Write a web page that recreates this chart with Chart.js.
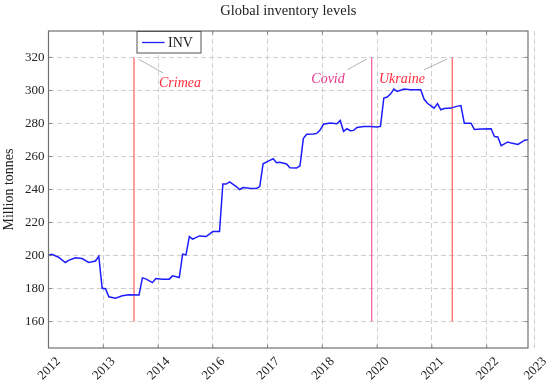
<!DOCTYPE html>
<html>
<head>
<meta charset="utf-8">
<script src="https://cdn.jsdelivr.net/npm/chart.js@4"></script>
<style>
  html, body { margin: 0; padding: 0; background: #fff; }
  canvas { display: block; }
</style>
</head>
<body>
<canvas id="invChart" width="550" height="384"></canvas>
<script>
// monthly index from the first observation
const months = [0,1,3,5,6,8,10,12,13,14,15,16,17,18,20,22,24,27,28,29,31,32,34,36,37,39,40,41,42,43,45,47,49,51,52,53,54,56,57,58,60,62,63,64,66,67,68,69,71,72,74,75,76,77,79,80,81,82,84,86,87,88,89,90,91,92,94,96,98,99,100,101,102,103,104,106,108,111,112,113,115,116,117,118,120,122,123,124,126,127,129,132,133,134,135,137,138,140,142,143];
const inventory = [200.2,200.8,199.0,195.8,197.1,198.7,198.2,195.8,196.2,196.7,199.6,180.2,179.9,175.0,174.2,175.6,176.2,176.1,186.5,185.9,183.6,186.1,185.7,185.7,187.7,186.7,200.8,200.4,211.5,209.9,211.9,211.5,214.5,214.5,243.3,243.3,244.6,241.8,240.0,241.2,240.8,240.6,241.8,255.6,257.6,258.6,256.2,256.5,255.5,253.2,253.0,254.4,270.8,273.4,273.6,274.0,276.0,279.5,280.2,279.8,281.8,275.2,276.8,275.6,275.8,277.6,278.2,278.2,277.8,278.2,295.4,296.0,297.8,300.8,299.4,300.8,300.4,300.4,294.8,292.2,289.3,292.0,288.3,289.0,289.3,290.5,290.8,280.2,280.2,276.4,276.6,276.8,272.1,271.8,266.6,268.8,268.1,267.3,269.9,270.1];

const xTickMonths = [0, 16.33, 32.67, 49, 65.33, 81.67, 98, 114.33, 130.67, 145];
const xTickLabels = ['2012','2013','2014','2016','2017','2018','2020','2021','2022','2023'];
const yTicks = [160, 180, 200, 220, 240, 260, 280, 300, 320];

const eventNames = ['Crimea', 'Covid', 'Ukraine'];
const eventMonths = [25.5, 96.4, 120.4];
const eventSpan = [160, 320];

const SERIF = "'Liberation Serif', 'DejaVu Serif', serif";

// pin geometry & colours for each event label
const eventStyle = {
    'Crimea':  { line: '#ff4d4d', text: '#ff2a3a', pin: [5, 2, 29, 15.5], label: [46, 25.5] },
    'Covid':   { line: '#f0489a', text: '#e8338a', pin: [-5, 1.6, -24.4, 12.3], label: [-43.7, 22.3] },
    'Ukraine': { line: '#ff4d4d', text: '#ff2a3a', pin: [-5, 1.6, -28.3, 12.3], label: [-50.3, 22.3] }
};

const decorPlugin = {
    id: 'decor',
    beforeDatasetsDraw(chart) {
        const { ctx, scales: { x, y } } = chart;
        ctx.save();
        eventNames.forEach((name, i) => {
            const st = eventStyle[name];
            const px = x.getPixelForValue(eventMonths[i]);
            const top = y.getPixelForValue(eventSpan[1]);
            const bot = y.getPixelForValue(eventSpan[0]);
            ctx.strokeStyle = st.line;
            ctx.lineWidth = 1.1;
            ctx.beginPath();
            ctx.moveTo(px, top);
            ctx.lineTo(px, bot);
            ctx.stroke();

            ctx.strokeStyle = '#a0a0a0';
            ctx.lineWidth = 0.8;
            ctx.beginPath();
            ctx.moveTo(px + st.pin[0], top + st.pin[1]);
            ctx.lineTo(px + st.pin[2], top + st.pin[3]);
            ctx.stroke();

            ctx.fillStyle = st.text;
            ctx.font = 'italic 14px ' + SERIF;
            ctx.textAlign = 'center';
            ctx.textBaseline = 'middle';
            ctx.fillText(name, px + st.label[0], top + st.label[1]);
        });
        ctx.restore();
    },
    afterDraw(chart) {
        const { ctx, chartArea: a, scales: { x, y } } = chart;
        ctx.save();
        // frame
        ctx.strokeStyle = '#707070';
        ctx.lineWidth = 1.2;
        ctx.strokeRect(a.left, a.top, a.right - a.left, a.bottom - a.top);
        // inner tick marks
        ctx.lineWidth = 0.8;
        ctx.beginPath();
        yTicks.forEach(v => {
            const py = y.getPixelForValue(v);
            ctx.moveTo(a.left, py); ctx.lineTo(a.left + 3.5, py);
            ctx.moveTo(a.right, py); ctx.lineTo(a.right - 3.5, py);
        });
        xTickMonths.forEach(m => {
            const px = x.getPixelForValue(m);
            if (px > a.right) return;
            ctx.moveTo(px, a.bottom); ctx.lineTo(px, a.bottom - 3.5);
            ctx.moveTo(px, a.top); ctx.lineTo(px, a.top + 3.5);
        });
        ctx.stroke();

        // legend box
        const ds = chart.data.datasets[0];
        const lx = a.left + 88.5, ly = a.top + 0.5;
        ctx.fillStyle = '#fff';
        ctx.fillRect(lx, ly, 64, 21.5);
        ctx.strokeStyle = '#555';
        ctx.lineWidth = 1;
        ctx.strokeRect(lx, ly, 64, 21.5);
        ctx.strokeStyle = ds.borderColor;
        ctx.lineWidth = 1.3;
        ctx.beginPath();
        ctx.moveTo(lx + 5, ly + 11);
        ctx.lineTo(lx + 27.5, ly + 11);
        ctx.stroke();
        ctx.fillStyle = '#222';
        ctx.font = '14px ' + SERIF;
        ctx.textAlign = 'left';
        ctx.textBaseline = 'middle';
        ctx.fillText(ds.label, lx + 31, ly + 11.5);
        ctx.restore();
    }
};

const gridStyle = { color: '#cfcfcf', lineWidth: 1, drawTicks: false };

new Chart(document.getElementById('invChart'), {
    type: 'line',
    data: {
        datasets: [{
            label: 'INV',
            data: months.map((m, i) => ({ x: m, y: inventory[i] })),
            borderColor: '#1c1cff',
            borderWidth: 1.5,
            pointRadius: 0,
            tension: 0,
            fill: false
        }]
    },
    options: {
        responsive: false,
        animation: false,
        devicePixelRatio: 1,
        layout: { padding: { left: 0, right: 22, top: 0, bottom: 0 } },
        plugins: {
            legend: { display: false },
            tooltip: { enabled: false },
            title: {
                display: true,
                text: 'Global inventory levels',
                fullSize: false,
                color: '#222',
                font: { family: SERIF, size: 14.5, weight: 'normal' },
                padding: { top: 2, bottom: 11.6 }
            }
        },
        scales: {
            x: {
                type: 'linear',
                min: 0,
                max: 143,
                grid: gridStyle,
                border: { display: false, dash: [5, 3] },
                afterBuildTicks: s => { s.ticks = xTickMonths.map(v => ({ value: v })); },
                afterFit: s => { s.height = 36; s.paddingLeft = 0; s.paddingRight = 0; },
                ticks: {
                    autoSkip: false,
                    minRotation: 45,
                    maxRotation: 45,
                    padding: 6,
                    labelOffset: 10,
                    color: '#222',
                    font: { family: SERIF, size: 13 },
                    callback: (v, i) => xTickLabels[i]
                }
            },
            y: {
                min: 144,
                max: 336,
                grid: gridStyle,
                border: { display: false, dash: [5, 3] },
                afterBuildTicks: s => { s.ticks = yTicks.map(v => ({ value: v })); },
                afterFit: s => { s.width = 48.5; },
                title: {
                    display: true,
                    text: 'Million tonnes',
                    color: '#222',
                    font: { family: SERIF, size: 14 },
                    padding: { top: 1, bottom: 0 }
                },
                ticks: {
                    padding: 4,
                    color: '#222',
                    font: { family: SERIF, size: 13 }
                }
            }
        }
    },
    plugins: [decorPlugin]
});
</script>
</body>
</html>
